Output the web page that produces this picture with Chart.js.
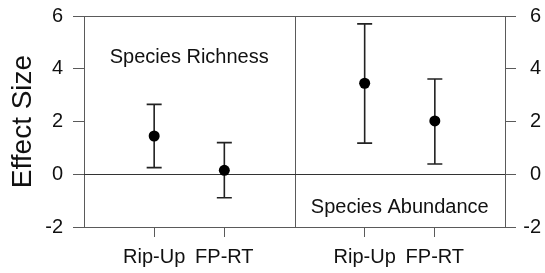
<!DOCTYPE html>
<html>
<head>
<meta charset="utf-8">
<script src="https://cdn.jsdelivr.net/npm/chart.js@4/dist/chart.umd.min.js"></script>
<style>
  html, body { margin: 0; padding: 0; background: #ffffff; }
  #wrap { width: 545px; height: 273px; }
</style>
</head>
<body>
<div id="wrap"><canvas id="c" width="545" height="273"></canvas></div>
<script>
// ---- data ----
const categories = ['Rip-Up', 'FP-RT', 'Rip-Up', 'FP-RT'];
const panels = ['Species Richness', 'Species Abundance'];
const panelOf = [0, 0, 1, 1];
const effectSize = [1.45, 0.15, 3.45, 2.02];
const lowerCI = [0.25, -0.89, 1.18, 0.39];
const upperCI = [2.65, 1.20, 5.70, 3.61];
const yTicks = [-2, 0, 2, 4, 6];

// x positions: each panel spans 3 units, items at 1 and 2 within it
const xPos = categories.map((c, i) => panelOf[i] * 3 + (i % 2) + 1);

const FONT = "'Liberation Sans', Arial, Helvetica, sans-serif";
const AXIS = '#5a5a5a';
const TEXT = '#111111';

const framePlugin = {
  id: 'frame',
  beforeDatasetsDraw(chart) {
    const {ctx, chartArea: a, scales} = chart;
    const x = scales.x, y = scales.y;
    ctx.save();
    ctx.strokeStyle = AXIS;
    ctx.lineWidth = 1;
    // top border
    ctx.beginPath();
    ctx.moveTo(a.left, Math.round(a.top) + 0.5);
    ctx.lineTo(a.right, Math.round(a.top) + 0.5);
    ctx.stroke();
    // panel divider
    const xd = Math.round(x.getPixelForValue(3)) + 0.5;
    ctx.beginPath();
    ctx.moveTo(xd, a.top);
    ctx.lineTo(xd, a.bottom);
    ctx.stroke();
    // zero line
    const y0 = Math.round(y.getPixelForValue(0)) + 0.5;
    ctx.strokeStyle = '#333';
    ctx.beginPath();
    ctx.moveTo(a.left, y0);
    ctx.lineTo(a.right, y0);
    ctx.stroke();
    // error bars
    ctx.strokeStyle = '#222';
    ctx.lineWidth = 1.6;
    for (let i = 0; i < categories.length; i++) {
      const px = x.getPixelForValue(xPos[i]);
      const pl = y.getPixelForValue(lowerCI[i]);
      const pu = y.getPixelForValue(upperCI[i]);
      ctx.beginPath();
      ctx.moveTo(px, pl); ctx.lineTo(px, pu);
      ctx.moveTo(px - 7.5, pl); ctx.lineTo(px + 7.5, pl);
      ctx.moveTo(px - 7.5, pu); ctx.lineTo(px + 7.5, pu);
      ctx.stroke();
    }
    ctx.restore();
  },
  afterDraw(chart) {
    const {ctx, scales} = chart;
    const x = scales.x, y = scales.y;
    ctx.save();
    ctx.fillStyle = TEXT;
    ctx.font = '20px ' + FONT;
    ctx.textAlign = 'center';
    ctx.textBaseline = 'middle';
    const labelY = [4.43, -1.27];
    panels.forEach((p, k) => {
      ctx.fillText(p, x.getPixelForValue(k * 3 + 1.5), y.getPixelForValue(labelY[k]));
    });
    ctx.restore();
  }
};

const yCommon = {
  type: 'linear',
  min: -2, max: 6,
  afterBuildTicks: s => { s.ticks = yTicks.map(v => ({value: v})); },
  grid: { drawOnChartArea: false, drawTicks: true, tickLength: 11, color: AXIS, tickColor: AXIS, lineWidth: 1 },
  border: { display: true, color: AXIS, width: 1 },
};

new Chart(document.getElementById('c'), {
  type: 'scatter',
  data: {
    datasets: [{
      data: xPos.map((xv, i) => ({x: xv, y: effectSize[i]})),
      backgroundColor: '#000',
      borderColor: '#000',
      borderWidth: 0,
      pointRadius: 5.5,
      pointHoverRadius: 5.5
    }]
  },
  options: {
    responsive: false,
    animation: false,
    devicePixelRatio: 1,
    layout: { padding: { top: 16, right: 4, left: 0, bottom: 0 } },
    plugins: { legend: { display: false }, tooltip: { enabled: false } },
    scales: {
      x: {
        type: 'linear',
        position: 'bottom',
        min: 0, max: 6,
        afterBuildTicks: s => { s.ticks = xPos.map(v => ({value: v})); },
        afterFit: s => { s.height = 46; s.paddingLeft = 0; s.paddingRight = 0; },
        ticks: {
          color: TEXT,
          font: { size: 20, family: FONT },
          padding: 8,
          maxRotation: 0,
          autoSkip: false,
          callback: v => { const i = xPos.indexOf(v); return i >= 0 ? categories[i] : ''; }
        },
        grid: { drawOnChartArea: false, drawTicks: true, tickLength: 10, color: AXIS, tickColor: AXIS },
        border: { display: true, color: AXIS, width: 1 }
      },
      y: Object.assign({}, yCommon, {
        position: 'left',
        afterFit: s => { s.width = 84; s.paddingTop = 0; s.paddingBottom = 0; },
        ticks: { color: TEXT, font: { size: 20, family: FONT }, padding: 10 },
        title: {
          display: true,
          text: 'Effect Size',
          color: TEXT,
          font: { size: 28, family: FONT, lineHeight: 1 },
          padding: { top: 9, bottom: 0 }
        }
      }),
      y2: Object.assign({}, yCommon, {
        position: 'right',
        afterFit: s => { s.width = 36; s.paddingTop = 0; s.paddingBottom = 0; },
        ticks: { color: TEXT, font: { size: 20, family: FONT }, padding: 8, crossAlign: 'far' }
      })
    }
  },
  plugins: [framePlugin]
});
</script>
</body>
</html>
